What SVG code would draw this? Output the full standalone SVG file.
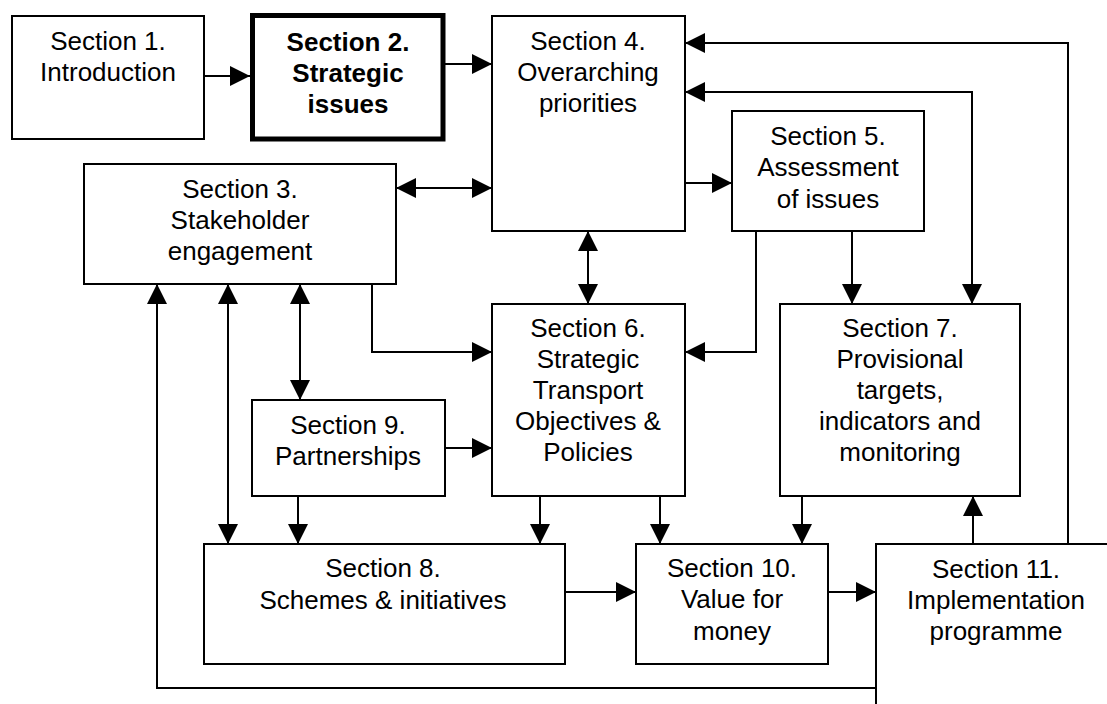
<svg xmlns="http://www.w3.org/2000/svg" width="1107" height="704" viewBox="0 0 1107 704">
<style>
.box{fill:#fff;stroke:#000;stroke-width:2}
.thick{fill:#fff;stroke:#000;stroke-width:5}
.t{font-family:"Liberation Sans",Arial,sans-serif;font-size:26px;fill:#000;text-anchor:middle}
.b{font-weight:bold}
.c{fill:none;stroke:#000;stroke-width:2}
.a{marker-end:url(#ah)}
.d{marker-start:url(#ah);marker-end:url(#ah)}
</style>
<defs>
<marker id="ah" markerUnits="userSpaceOnUse" markerWidth="20" markerHeight="20" refX="20" refY="10" orient="auto-start-reverse" viewBox="0 0 20 20">
<path d="M0,0 L20,10 L0,20 z" fill="#000"/>
</marker>
</defs>
<rect width="1107" height="704" fill="#fff"/>
<g id="connectors">
<path class="c a" d="M204,76 H250"/>
<path class="c a" d="M445,64 H492"/>
<path class="c d" d="M396,188 H492"/>
<path class="c a" d="M685,183 H732"/>
<path class="c a" d="M1068,548 V43 H685"/>
<path class="c d" d="M685,92 H972 V304"/>
<path class="c a" d="M852,231 V304"/>
<path class="c a" d="M756,231 V352 H685"/>
<path class="c d" d="M588,231 V304"/>
<path class="c a" d="M372,284 V352 H492"/>
<path class="c d" d="M300,284 V400"/>
<path class="c d" d="M228,284 V544"/>
<path class="c a" d="M876,688 H157 V284"/>
<path class="c a" d="M445,448 H492"/>
<path class="c a" d="M298,496 V544"/>
<path class="c a" d="M540,496 V544"/>
<path class="c a" d="M660,496 V544"/>
<path class="c a" d="M802,496 V544"/>
<path class="c a" d="M565,592 H636"/>
<path class="c a" d="M828,592 H876"/>
<path class="c a" d="M973,544 V496"/>
</g>
<g id="s1">
<rect class="box" x="12" y="16" width="192" height="123"/>
<text class="t" x="108" y="50">Section 1.</text>
<text class="t" x="108" y="81">Introduction</text>
</g>
<g id="s2">
<rect class="thick" x="252.5" y="15.5" width="190.5" height="123.5"/>
<text class="t b" x="348" y="51">Section 2.</text>
<text class="t b" x="348" y="82">Strategic</text>
<text class="t b" x="348" y="113">issues</text>
</g>
<g id="s4">
<rect class="box" x="492" y="16" width="193" height="215"/>
<text class="t" x="588" y="50">Section 4.</text>
<text class="t" x="588" y="81">Overarching</text>
<text class="t" x="588" y="112">priorities</text>
</g>
<g id="s5">
<rect class="box" x="732" y="111" width="192" height="120"/>
<text class="t" x="828" y="145">Section 5.</text>
<text class="t" x="828" y="176">Assessment</text>
<text class="t" x="828" y="208">of issues</text>
</g>
<g id="s3">
<rect class="box" x="84" y="164" width="312" height="120"/>
<text class="t" x="240" y="198">Section 3.</text>
<text class="t" x="240" y="229">Stakeholder</text>
<text class="t" x="240" y="260">engagement</text>
</g>
<g id="s6">
<rect class="box" x="492" y="304" width="193" height="192"/>
<text class="t" x="588" y="337">Section 6.</text>
<text class="t" x="588" y="368">Strategic</text>
<text class="t" x="588" y="399">Transport</text>
<text class="t" x="588" y="430">Objectives &amp;</text>
<text class="t" x="588" y="461">Policies</text>
</g>
<g id="s7">
<rect class="box" x="780" y="304" width="240" height="192"/>
<text class="t" x="900" y="337">Section 7.</text>
<text class="t" x="900" y="368">Provisional</text>
<text class="t" x="900" y="399">targets,</text>
<text class="t" x="900" y="430">indicators and</text>
<text class="t" x="900" y="461">monitoring</text>
</g>
<g id="s9">
<rect class="box" x="252" y="400" width="193" height="96"/>
<text class="t" x="348" y="434">Section 9.</text>
<text class="t" x="348" y="465">Partnerships</text>
</g>
<g id="s8">
<rect class="box" x="204" y="544" width="361" height="120"/>
<text class="t" x="383" y="577">Section 8.</text>
<text class="t" x="383" y="609">Schemes &amp; initiatives</text>
</g>
<g id="s10">
<rect class="box" x="636" y="544" width="192" height="120"/>
<text class="t" x="732" y="577">Section 10.</text>
<text class="t" x="732" y="608">Value for</text>
<text class="t" x="732" y="640">money</text>
</g>
<g id="s11">
<path d="M1107,544 H876 V704 H1107 Z" fill="#fff" stroke="none"/>
<path class="c" d="M1107,544 H876 V704"/>
<text class="t" x="996" y="578">Section 11.</text>
<text class="t" x="996" y="609">Implementation</text>
<text class="t" x="996" y="640">programme</text>
</g>
</svg>
